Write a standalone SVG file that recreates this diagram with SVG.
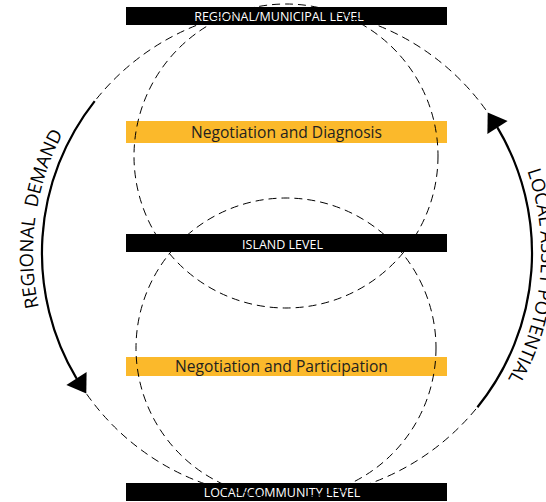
<svg xmlns="http://www.w3.org/2000/svg" width="546" height="502" viewBox="0 0 546 502">
  <style>
    .bar { fill: #000000; }
    .band { fill: #FBB92B; }
    .lvl { font-family: "Open Sans", "Liberation Sans", sans-serif; font-size: 12.5px; fill: #ffffff; text-anchor: middle; }
    .neg { font-family: "Open Sans", "Liberation Sans", sans-serif; font-size: 15.6px; fill: #231f20; text-anchor: middle; }
    .dash { fill: none; stroke: #000; stroke-width: 1; stroke-dasharray: 8 5; }
    .flow { fill: none; stroke: #000; stroke-width: 2.2; }
    .head { fill: #000; }
    .side { font-family: "Open Sans", "Liberation Sans", sans-serif; font-size: 18.5px; fill: #000; text-anchor: middle; }
  </style>
  <defs>
    <path id="leftPath" d="M67.03,380 A254,254 0 0 1 123.73,58.43"/>
    <path id="rightPath" d="M450.92,58.94 A255,255 0 0 1 414.5,473.84"/>
  </defs>
  <rect width="546" height="502" fill="#ffffff"/>

  <g id="node-regional">
    <rect class="bar" x="126" y="7" width="321" height="18"/>
    <text class="lvl" x="279" y="21">REGIONAL/MUNICIPAL LEVEL</text>
  </g>
  <g id="node-diagnosis">
    <rect class="band" x="126" y="121" width="321" height="22"/>
    <text class="neg" x="286.5" y="138">Negotiation and Diagnosis</text>
  </g>
  <g id="node-island">
    <rect class="bar" x="126" y="234" width="321" height="18"/>
    <text class="lvl" x="282.5" y="248.5">ISLAND LEVEL</text>
  </g>
  <g id="node-participation">
    <rect class="band" x="126" y="357" width="321" height="19"/>
    <text class="neg" x="281.5" y="372">Negotiation and Participation</text>
  </g>
  <g id="node-local">
    <rect class="bar" x="126" y="483" width="321" height="18"/>
    <text class="lvl" x="282" y="497">LOCAL/COMMUNITY LEVEL</text>
  </g>

  <g id="connectors">
    <circle class="dash" cx="286" cy="156" r="152"/>
    <circle class="dash" cx="286" cy="348" r="150"/>
    <circle class="dash" cx="287" cy="253" r="245"/>
    <path class="flow" d="M94.7,101.1 A245,245 0 0 0 76.5,378.4"/>
    <polygon class="head" points="86.3,393.5 86.6,371.9 66.4,384.9"/>
    <path class="flow" d="M477.4,407.2 A245,245 0 0 0 497.5,127.6"/>
    <polygon class="head" points="487.7,112.5 507.6,121.1 487.4,134.1"/>
    <text class="side" xml:space="preserve"><textPath href="#leftPath" startOffset="168">REGIONAL  DEMAND</textPath></text>
    <text class="side"><textPath href="#rightPath" startOffset="245">LOCAL ASSET POTENTIAL</textPath></text>
  </g>
</svg>
